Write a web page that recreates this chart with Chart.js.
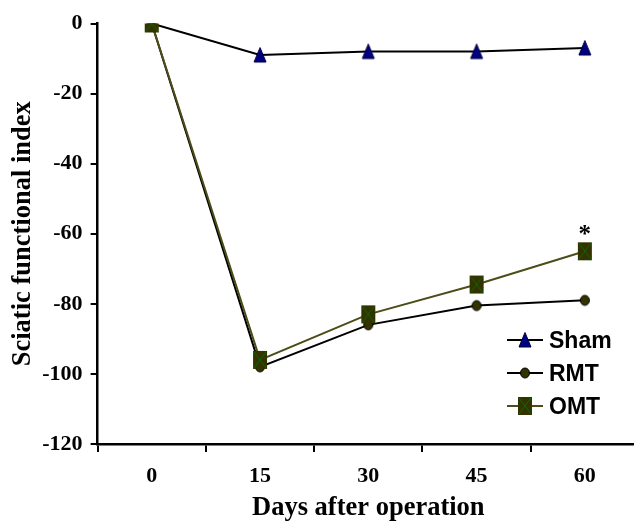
<!DOCTYPE html>
<html>
<head>
<meta charset="utf-8">
<script src="https://cdn.jsdelivr.net/npm/chart.js@4.4.1/dist/chart.umd.min.js"></script>
<style>
  html, body { margin: 0; padding: 0; background: #fff; overflow: hidden; }
  /* the original figure is cropped a few pixels past its right edge */
  #wrap { width: 649px; height: 524px; }
</style>
</head>
<body>
<div id="wrap"><canvas id="sfiChart"></canvas></div>
<script>
// days after the operation
const days = ['0', '15', '30', '45', '60'];
// sciatic functional index for each group
const sham = [0, -9, -8, -8, -7];
const rmt = [0, -98, -86, -80.5, -79];
const omt = [0, -96, -83, -74.5, -65];
const seriesNames = ['Sham', 'RMT', 'OMT'];
// y axis range and step
const yMin = -120;
const yMax = 0;
const yStep = 20;
// significance mark on the last OMT point
const starText = '*';

const serif = 'Liberation Serif, Times New Roman, serif';
const sans = 'Liberation Sans, Arial, sans-serif';

function makeCanvas(w, h) {
  const c = document.createElement('canvas');
  c.width = w;
  c.height = h;
  return c;
}

// marker shapes
function drawTriangle(ctx, cx, cy) {
  ctx.beginPath();
  ctx.moveTo(cx, cy - 7.5);
  ctx.lineTo(cx + 6, cy + 7);
  ctx.lineTo(cx - 6, cy + 7);
  ctx.closePath();
  ctx.fillStyle = '#000080';
  ctx.fill();
  ctx.strokeStyle = '#000040';
  ctx.lineWidth = 1;
  ctx.stroke();
}

function drawCircle(ctx, cx, cy) {
  ctx.beginPath();
  ctx.ellipse(cx, cy, 4.5, 5, 0, 0, Math.PI * 2);
  ctx.fillStyle = '#333300';
  ctx.fill();
  ctx.strokeStyle = '#000';
  ctx.lineWidth = 1;
  ctx.stroke();
}

function drawSquare(ctx, cx, cy) {
  ctx.fillStyle = '#333300';
  ctx.fillRect(cx - 7, cy - 9, 14, 18);
  ctx.strokeStyle = '#0a6a0a';
  ctx.lineWidth = 1;
  ctx.beginPath();
  ctx.moveTo(cx - 6, cy - 8);
  ctx.lineTo(cx + 6, cy + 8);
  ctx.moveTo(cx + 6, cy - 8);
  ctx.lineTo(cx - 6, cy + 8);
  ctx.stroke();
}

const lineColors = ['#000', '#000', '#4d4d1a'];
const shapes = [drawTriangle, drawCircle, drawSquare];

// point images for the plot
const pointImages = shapes.map(fn => {
  const c = makeCanvas(16, 20);
  fn(c.getContext('2d'), 8, 10);
  return c;
});

// legend images: short line with the marker on it
const legendImages = shapes.map((fn, i) => {
  const c = makeCanvas(40, 20);
  const g = c.getContext('2d');
  g.strokeStyle = lineColors[i];
  g.lineWidth = 2;
  g.beginPath();
  g.moveTo(2, 10);
  g.lineTo(38, 10);
  g.stroke();
  fn(g, 20, 10);
  return c;
});

// legend drawn inside the plot, lower right
const insideLegend = {
  id: 'insideLegend',
  afterDraw(chart) {
    const ctx = chart.ctx;
    const area = chart.chartArea;
    ctx.save();
    ctx.font = 'bold 23px ' + sans;
    ctx.fillStyle = '#000';
    ctx.textAlign = 'left';
    ctx.textBaseline = 'alphabetic';
    chart.data.datasets.forEach((ds, i) => {
      const base = area.bottom - 96 + i * 33;
      const img = legendImages[i];
      ctx.drawImage(img, area.right - 114 - 20, base - 8 - 10);
      ctx.fillText(ds.label, area.right - 90, base);
    });
    ctx.restore();
  }
};

// asterisk above the last OMT point
const starMark = {
  id: 'starMark',
  afterDatasetsDraw(chart) {
    const meta = chart.getDatasetMeta(2);
    const pt = meta.data[meta.data.length - 1];
    const ctx = chart.ctx;
    ctx.save();
    ctx.font = 'bold 25px ' + serif;
    ctx.fillStyle = '#000';
    ctx.textAlign = 'center';
    ctx.textBaseline = 'alphabetic';
    ctx.fillText(starText, pt.x, pt.y - 9);
    ctx.restore();
  }
};

const seriesData = [sham, rmt, omt];

const ctx = document.getElementById('sfiChart').getContext('2d');
const sfiChart = new Chart(ctx, {
  type: 'line',
  data: {
    labels: days,
    datasets: seriesData.map((vals, i) => ({
      label: seriesNames[i],
      data: vals,
      borderColor: lineColors[i],
      borderWidth: 2,
      tension: 0,
      pointStyle: pointImages[i],
      pointRadius: 8,
      order: 2 - i
    }))
  },
  options: {
    responsive: true,
    maintainAspectRatio: false,
    animation: false,
    layout: { padding: { top: 23.5, right: 1, bottom: 0, left: 0 } },
    plugins: {
      legend: { display: false },
      tooltip: { enabled: false }
    },
    scales: {
      x: {
        type: 'category',
        offset: true,
        grid: {
          offset: true,
          drawOnChartArea: false,
          drawTicks: true,
          tickLength: 8,
          color: '#000',
          lineWidth: 2
        },
        border: { color: '#000', width: 2.5 },
        ticks: {
          color: '#000',
          font: { family: serif, size: 22, weight: 'bold' },
          padding: 11,
          maxRotation: 0
        },
        title: {
          display: true,
          text: 'Days after operation',
          color: '#000',
          font: { family: serif, size: 26.5, weight: 'bold' },
          padding: { top: 0, bottom: 0 }
        },
        afterFit: scale => { scale.height = 80; }
      },
      y: {
        min: yMin,
        max: yMax,
        grid: {
          drawOnChartArea: false,
          drawTicks: true,
          tickLength: 7,
          color: '#000',
          lineWidth: 2
        },
        border: { color: '#000', width: 2.5 },
        ticks: {
          stepSize: yStep,
          color: '#000',
          font: { family: serif, size: 22, weight: 'bold' },
          padding: 8
        },
        title: {
          display: true,
          text: 'Sciatic functional index',
          color: '#000',
          font: { family: serif, size: 26.5, weight: 'bold' },
          padding: { top: 7, bottom: 0 }
        },
        afterFit: scale => { scale.width = 97.6; }
      }
    }
  },
  plugins: [insideLegend, starMark]
});
</script>
</body>
</html>
